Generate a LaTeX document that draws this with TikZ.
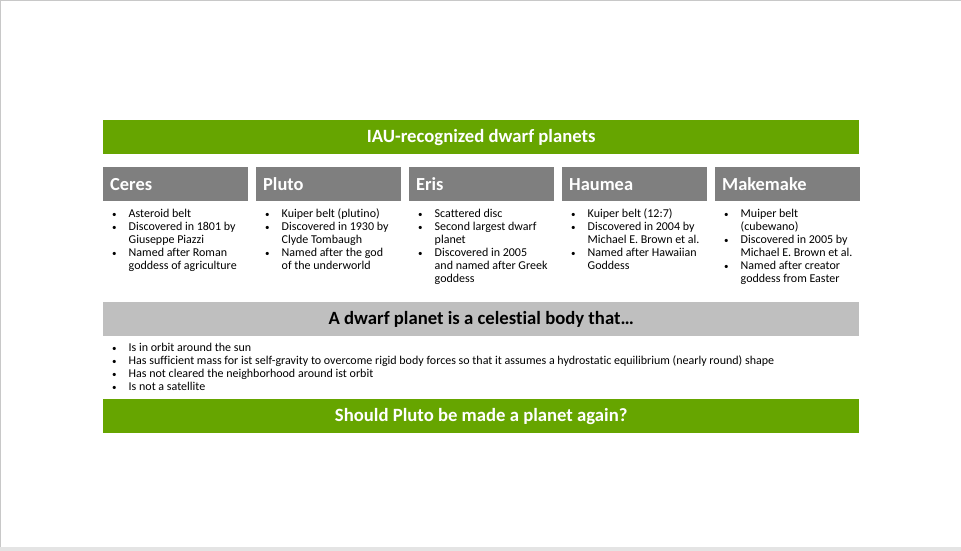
\documentclass[tikz,border=0pt]{standalone}
\usepackage{fontspec}
\setmainfont{Carlito}[Ligatures=NoCommon]
\definecolor{hgreen}{RGB}{102,165,0}
\definecolor{hgrey}{RGB}{127,127,127}
\definecolor{lgrey}{RGB}{191,191,191}
\definecolor{framegrey}{RGB}{200,200,200}
\definecolor{bandgrey}{RGB}{228,228,228}
\newcommand{\bl}[1]{\makebox[17.5pt][l]{\hspace*{1pt}{\fontsize{9}{9}\selectfont\textbullet}}#1}
\newcommand{\cl}[1]{\hspace*{17.5pt}#1}
\tikzset{
  bar/.style={fill=hgreen, text=white, font=\bfseries\fontsize{18.7}{22}\selectfont, minimum height=34pt, minimum width=756pt, inner sep=0pt, anchor=north west},
  defbar/.style={fill=lgrey, text=black, font=\bfseries\fontsize{18.7}{22}\selectfont, minimum height=34pt, minimum width=756pt, inner sep=0pt, anchor=north west},
  planet/.style={fill=hgrey, text=white, font=\bfseries\fontsize{18.4}{22}\selectfont, minimum height=34pt, minimum width=145pt, inner sep=0pt, inner xsep=7pt, text width=131pt, align=left, anchor=north west},
  facts/.style={font=\fontsize{12}{13}\selectfont, align=left, inner sep=0pt, anchor=north west},
}
\begin{document}
\begin{tikzpicture}[x=1pt,y=-1pt]
\useasboundingbox (0,0) rectangle (961,551);
\fill[white] (0,0) rectangle (961,551);
\fill[framegrey] (0,0) rectangle (961,1.5);
\fill[framegrey] (0,0) rectangle (1.2,551);
\fill[bandgrey] (0,547) rectangle (961,551);

\node[bar] (title) at (103,120) {IAU-recognized dwarf planets};

\node[planet] (ceres) at (103,167) {Ceres};
\node[planet] (pluto) at (256,167) {Pluto};
\node[planet] (eris) at (409,167) {Eris};
\node[planet] (haumea) at (562,167) {Haumea};
\node[planet] (makemake) at (715,167) {Makemake};

\node[facts] (ceresf) at (111,207.7) {\strut\bl{Asteroid belt}\\\bl{Discovered in 1801 by}\\\cl{Giuseppe Piazzi}\\\bl{Named after Roman}\\\cl{goddess of agriculture}};
\node[facts] (plutof) at (264,207.7) {\strut\bl{Kuiper belt (plutino)}\\\bl{Discovered in 1930 by}\\\cl{Clyde Tombaugh}\\\bl{Named after the god}\\\cl{of the underworld}};
\node[facts] (erisf) at (417,207.7) {\strut\bl{Scattered disc}\\\bl{Second largest dwarf}\\\cl{planet}\\\bl{Discovered in 2005}\\\cl{and named after Greek}\\\cl{goddess}};
\node[facts] (haumeaf) at (570,207.7) {\strut\bl{Kuiper belt (12:7)}\\\bl{Discovered in 2004 by}\\\cl{Michael E. Brown et al.}\\\bl{Named after Hawaiian}\\\cl{Goddess}};
\node[facts] (makemakef) at (723,207.7) {\strut\bl{Muiper belt}\\\cl{(cubewano)}\\\bl{Discovered in 2005 by}\\\cl{Michael E. Brown et al.}\\\bl{Named after creator}\\\cl{goddess from Easter}};

\node[defbar] (def) at (103,302) {A dwarf planet is a celestial body that…};

\node[facts] (deff) at (111,342) {\strut\bl{Is in orbit around the sun}\\\bl{Has sufficient mass for ist self-gravity to overcome rigid body forces so that it assumes a hydrostatic equilibrium (nearly round) shape}\\\bl{Has not cleared the neighborhood around ist orbit}\\\bl{Is not a satellite}};

\node[bar] (question) at (103,399) {Should Pluto be made a planet again?};
\end{tikzpicture}
\end{document}
